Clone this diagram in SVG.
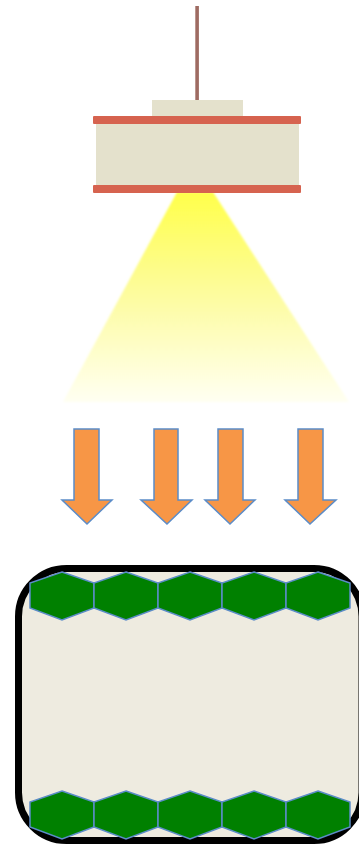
<svg xmlns="http://www.w3.org/2000/svg" width="359" height="846" viewBox="0 0 359 846">
  <defs>
    <linearGradient id="beam" x1="0" y1="0" x2="0" y2="1">
      <stop offset="0" stop-color="#ffff4a"/>
      <stop offset="0.45" stop-color="#fdfc98"/>
      <stop offset="1" stop-color="#fffff2"/>
    </linearGradient>
    <filter id="soft" x="-5%" y="-5%" width="110%" height="110%">
      <feGaussianBlur stdDeviation="0.8"/>
    </filter>
  </defs>
  <style>
    .bar { fill: #d6634f; }
    .body { fill: #e4e1cc; }
    .arrow { fill: #f79646; stroke: #5b8cc8; stroke-width: 1.5; stroke-linejoin: miter; }
    .cell { fill: #008000; stroke: #5b8cc8; stroke-width: 1.5; stroke-linejoin: miter; }
  </style>

  <rect width="359" height="846" fill="#ffffff"/>

  <!-- light beam below the lamp -->
  <g id="beam-cone">
    <polygon points="177,192 213,192 349,402 63,402" fill="url(#beam)" filter="url(#soft)"/>
  </g>

  <!-- hanging lamp -->
  <g id="lamp">
    <rect x="195.3" y="6" width="3.6" height="95" fill="#9e6b62"/>
    <rect x="152" y="100" width="91" height="17" class="body"/>
    <rect x="96" y="120" width="203" height="69" class="body"/>
    <rect x="93" y="116" width="208" height="8" rx="1" class="bar"/>
    <rect x="93" y="185" width="208" height="8" rx="1" class="bar"/>
  </g>

  <!-- downward arrows -->
  <g id="arrows">
    <polygon class="arrow" points="74,429 99,429 99,500 112,500 87,524 62,500 74,500"/>
    <polygon class="arrow" points="154,429 178,429 178,500 192,500 167,524 141,500 154,500"/>
    <polygon class="arrow" points="218,429 243,429 243,500 255,500 230,524 205,500 218,500"/>
    <polygon class="arrow" points="298,429 323,429 323,500 336,500 310,524 285,500 298,500"/>
  </g>

  <!-- container -->
  <g id="container">
    <rect x="18.5" y="568.5" width="343.5" height="272" rx="48" ry="48" fill="#eeebe0" stroke="#000000" stroke-width="7"/>
  </g>

  <!-- top row of cells -->
  <g id="cells-top">
    <polygon class="cell" points="62,572 94,583 94,608 62,620 30,608 30,583"/>
    <polygon class="cell" points="126,572 158,583 158,608 126,620 94,608 94,583"/>
    <polygon class="cell" points="190,572 222,583 222,608 190,620 158,608 158,583"/>
    <polygon class="cell" points="254,572 286,583 286,608 254,620 222,608 222,583"/>
    <polygon class="cell" points="318,572 350,583 350,608 318,620 286,608 286,583"/>
  </g>

  <!-- bottom row of cells -->
  <g id="cells-bottom">
    <polygon class="cell" points="62,791 94,802 94,827 62,839 30,827 30,802"/>
    <polygon class="cell" points="126,791 158,802 158,827 126,839 94,827 94,802"/>
    <polygon class="cell" points="190,791 222,802 222,827 190,839 158,827 158,802"/>
    <polygon class="cell" points="254,791 286,802 286,827 254,839 222,827 222,802"/>
    <polygon class="cell" points="318,791 350,802 350,827 318,839 286,827 286,802"/>
  </g>
</svg>
